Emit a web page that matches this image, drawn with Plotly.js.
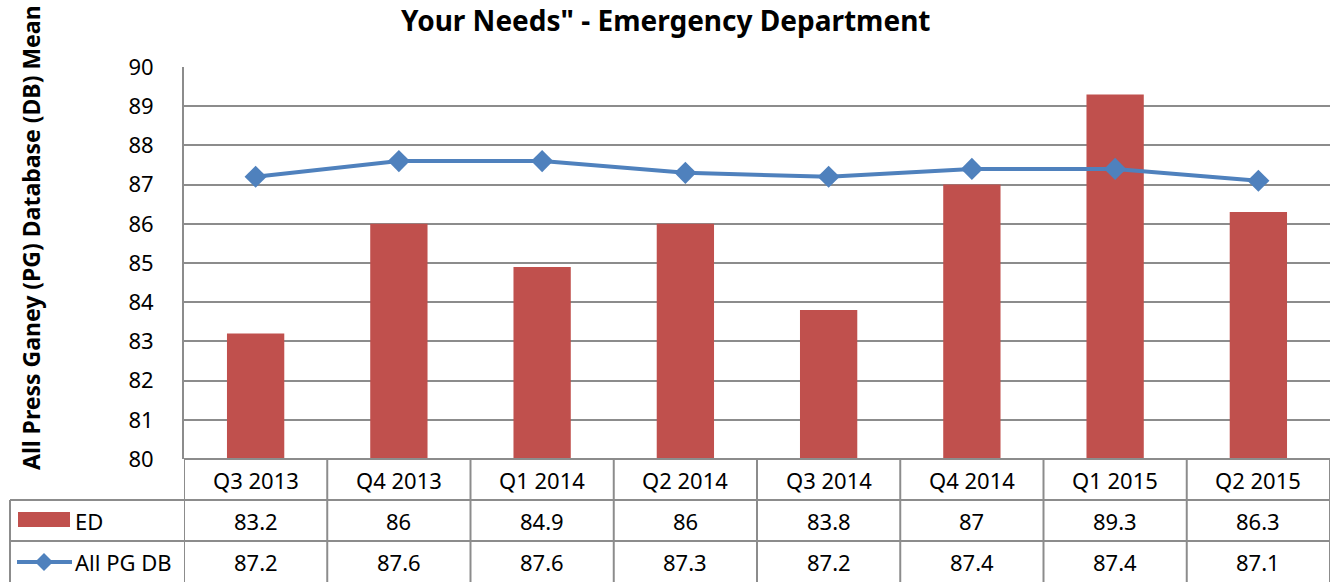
<!DOCTYPE html>
<html>
<head>
<meta charset="utf-8">
<script src="https://cdn.plot.ly/plotly-3.0.1.min.js"></script>
<style>html,body{margin:0;padding:0;background:#fff;}#chart{width:1330px;height:582px;}</style>
</head>
<body>
<div id="chart"></div>
<script>
const categories = ["Q3 2013","Q4 2013","Q1 2014","Q2 2014","Q3 2014","Q4 2014","Q1 2015","Q2 2015"];
const edValues = [83.2, 86, 84.9, 86, 83.8, 87, 89.3, 86.3];
const pgValues = [87.2, 87.6, 87.6, 87.3, 87.2, 87.4, 87.4, 87.1];
const seriesNames = ["ED", "All PG DB"];
const yTicks = [80,81,82,83,84,85,86,87,88,89,90];
const chartTitle = "Your Needs\" - Emergency Department";
const yTitle = "All Press Ganey (PG) Database (DB) Mean";

const W = 1330, H = 582;
const plotLeft = 184, plotTop = 67, plotBottom = 459;
const plotH = plotBottom - plotTop;
const py = px => (plotBottom - px) / plotH;      // pixel y -> paper y
const pxX = px => (px - plotLeft) / (W - plotLeft); // pixel x -> paper x

const FONT = "Noto Sans, Open Sans, sans-serif";
const red = "#C0504D", blue = "#4F81BD", grid = "#8c8c8c";

const traces = [
  {type:"bar", x:categories, y:edValues, name:seriesNames[0], marker:{color:red}, width:0.4, hoverinfo:"x+y"},
  {type:"scatter", mode:"lines+markers", x:categories, y:pgValues, name:seriesNames[1],
   line:{color:blue, width:4}, marker:{symbol:"diamond", size:17, color:blue}, cliponaxis:false}
];

const shapes = [];
const annotations = [];
const lineStyle = {color:grid, width:2};
// horizontal table lines
shapes.push({type:"line", xref:"paper", yref:"paper", x0:0, x1:1, y0:py(459), y1:py(459), line:lineStyle});
shapes.push({type:"line", xref:"paper", yref:"paper", x0:pxX(10), x1:1, y0:py(500), y1:py(500), line:lineStyle});
shapes.push({type:"line", xref:"paper", yref:"paper", x0:pxX(10), x1:1, y0:py(541), y1:py(541), line:lineStyle});
// left table border
shapes.push({type:"line", xref:"paper", yref:"paper", x0:pxX(10), x1:pxX(10), y0:py(500), y1:py(582), line:lineStyle});
// vertical category separators
for (let i = 0; i <= categories.length; i++) {
  shapes.push({type:"line", xref:"x", yref:"paper", x0:i-0.5, x1:i-0.5, y0:py(459), y1:py(582), line:lineStyle});
}
// legend keys in table
shapes.push({type:"rect", xref:"paper", yref:"paper", x0:pxX(18), x1:pxX(70), y0:py(512), y1:py(527), fillcolor:red, line:{width:0}});
shapes.push({type:"line", xref:"paper", yref:"paper", x0:pxX(17), x1:pxX(72), y0:py(562), y1:py(562), line:{color:blue, width:4}});
shapes.push({type:"path", xref:"paper", yref:"paper",
  path:`M ${pxX(44)} ${py(553)} L ${pxX(53)} ${py(562)} L ${pxX(44)} ${py(571)} L ${pxX(35)} ${py(562)} Z`,
  fillcolor:blue, line:{width:0}});

const cellFont = {family:FONT, size:22, color:"#000"};
categories.forEach((c, i) => {
  annotations.push({xref:"x", yref:"paper", x:c, y:py(480), text:c, showarrow:false, font:cellFont, xanchor:"center", yanchor:"middle"});
  annotations.push({xref:"x", yref:"paper", x:c, y:py(521), text:String(edValues[i]), showarrow:false, font:cellFont, xanchor:"center", yanchor:"middle"});
  annotations.push({xref:"x", yref:"paper", x:c, y:py(562), text:String(pgValues[i]), showarrow:false, font:cellFont, xanchor:"center", yanchor:"middle"});
});
annotations.push({xref:"paper", yref:"paper", x:pxX(73), y:py(521), text:seriesNames[0], showarrow:false, font:cellFont, xanchor:"left", yanchor:"middle"});
annotations.push({xref:"paper", yref:"paper", x:pxX(73), y:py(562), text:seriesNames[1], showarrow:false, font:cellFont, xanchor:"left", yanchor:"middle"});
// y-axis title
annotations.push({xref:"paper", yref:"paper", x:pxX(31), y:py(238), text:"<b>" + yTitle + "</b>",
  textangle:-90, showarrow:false, font:{family:FONT, size:23, color:"#000"}, xanchor:"center", yanchor:"middle"});
// chart title (visible line)
annotations.push({xref:"paper", yref:"paper", x:pxX(W/2), y:py(0), text:"<b>" + chartTitle + "</b>",
  showarrow:false, font:{family:FONT, size:28, color:"#000"}, xanchor:"center", yanchor:"top", borderpad:0});

const layout = {
  width:W, height:H,
  margin:{l:plotLeft, r:0, t:plotTop, b:H-plotBottom, pad:0},
  paper_bgcolor:"#fff", plot_bgcolor:"#fff",
  showlegend:false,
  xaxis:{type:"category", showticklabels:false, showgrid:false, zeroline:false, showline:false, ticks:"", range:[-0.5, categories.length-0.5]},
  yaxis:{range:[80,90], tickvals:yTicks, ticktext:yTicks.map(String), showgrid:true, gridcolor:grid, gridwidth:2,
         zeroline:false, showline:true, linecolor:grid, linewidth:2, ticks:"", ticklen:0, ticklabelstandoff:24,
         tickfont:{family:FONT, size:22, color:"#000"}, automargin:false},
  shapes:shapes, annotations:annotations
};

Plotly.newPlot("chart", traces, layout, {displayModeBar:false, staticPlot:true});
</script>
</body>
</html>
